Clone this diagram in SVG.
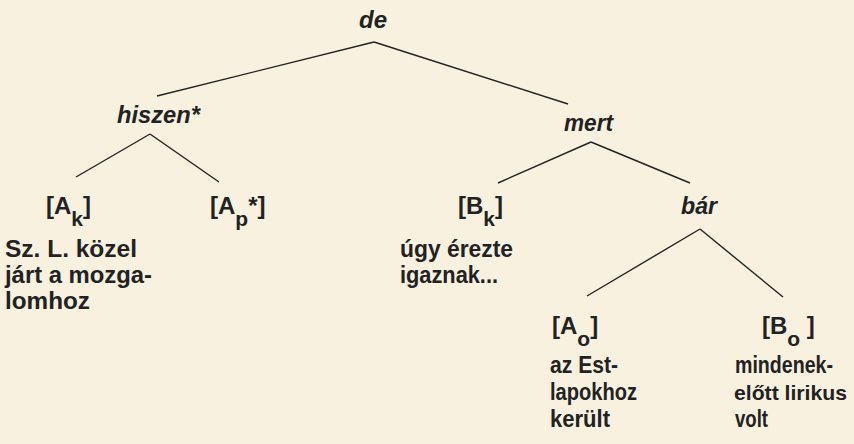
<svg xmlns="http://www.w3.org/2000/svg" width="854" height="444" viewBox="0 0 854 444">
<style>
.bg{fill:#f8f1df}
.lbl{font-family:"Liberation Sans",Arial,sans-serif;font-weight:bold;font-style:italic;font-size:24px;fill:#222}
.t{font-family:"Liberation Sans",Arial,sans-serif;font-weight:bold;font-size:24px;fill:#222}
.sub{font-size:21px}
.edge{stroke:#222;stroke-width:1.4;fill:none}
</style>
<rect class="bg" x="0" y="0" width="854" height="444"/>
<g id="connectors">
<line class="edge" x1="374" y1="42" x2="157" y2="96"/>
<line class="edge" x1="374" y1="42" x2="568" y2="104"/>
<line class="edge" x1="150" y1="134" x2="76" y2="177"/>
<line class="edge" x1="150" y1="134" x2="219" y2="182"/>
<line class="edge" x1="591" y1="142" x2="498" y2="183"/>
<line class="edge" x1="591" y1="142" x2="690" y2="183"/>
<line class="edge" x1="700" y1="229" x2="587" y2="296"/>
<line class="edge" x1="700" y1="229" x2="783" y2="297"/>
</g>
<g id="de"><text class="lbl" x="373" y="28" text-anchor="middle">de</text></g>
<g id="hiszen"><text class="lbl" x="117" y="123" textLength="83" lengthAdjust="spacingAndGlyphs">hiszen*</text></g>
<g id="mert"><text class="lbl" x="564" y="131" textLength="49" lengthAdjust="spacingAndGlyphs">mert</text></g>
<g id="bar"><text class="lbl" x="681" y="214" textLength="36" lengthAdjust="spacingAndGlyphs">bár</text></g>
<g id="Ak">
<text class="t" x="46" y="214">[A<tspan class="sub" dy="12">k</tspan><tspan dy="-12">]</tspan></text>
<text class="t" x="5" y="257" textLength="132" lengthAdjust="spacingAndGlyphs">Sz. L. közel</text>
<text class="t" x="5" y="283" textLength="147" lengthAdjust="spacingAndGlyphs">járt a mozga-</text>
<text class="t" x="5" y="309" textLength="85" lengthAdjust="spacingAndGlyphs">lomhoz</text>
</g>
<g id="Ap"><text class="t" x="210" y="214">[A<tspan class="sub" dy="12">p</tspan><tspan dy="-12">*]</tspan></text></g>
<g id="Bk">
<text class="t" x="458" y="214">[B<tspan class="sub" dy="12">k</tspan><tspan dy="-12">]</tspan></text>
<text class="t" x="400" y="257" textLength="113" lengthAdjust="spacingAndGlyphs">úgy érezte</text>
<text class="t" x="400" y="283" textLength="98" lengthAdjust="spacingAndGlyphs">igaznak...</text>
</g>
<g id="Ao">
<text class="t" x="552" y="334">[A<tspan class="sub" dy="12">o</tspan><tspan dy="-12">]</tspan></text>
<text class="t" x="550" y="373" textLength="68" lengthAdjust="spacingAndGlyphs">az Est-</text>
<text class="t" x="550" y="400" textLength="87" lengthAdjust="spacingAndGlyphs">lapokhoz</text>
<text class="t" x="550" y="427" textLength="60" lengthAdjust="spacingAndGlyphs">került</text>
</g>
<g id="Bo">
<text class="t" x="762" y="334">[B<tspan class="sub" dy="12">o</tspan><tspan dy="-12"> ]</tspan></text>
<text class="t" x="735" y="373" textLength="98" lengthAdjust="spacingAndGlyphs">mindenek-</text>
<text class="t" x="734" y="400" style="font-size:21px" textLength="113" lengthAdjust="spacingAndGlyphs">előtt lirikus</text>
<text class="t" x="735" y="427" textLength="33" lengthAdjust="spacingAndGlyphs">volt</text>
</g>
</svg>
